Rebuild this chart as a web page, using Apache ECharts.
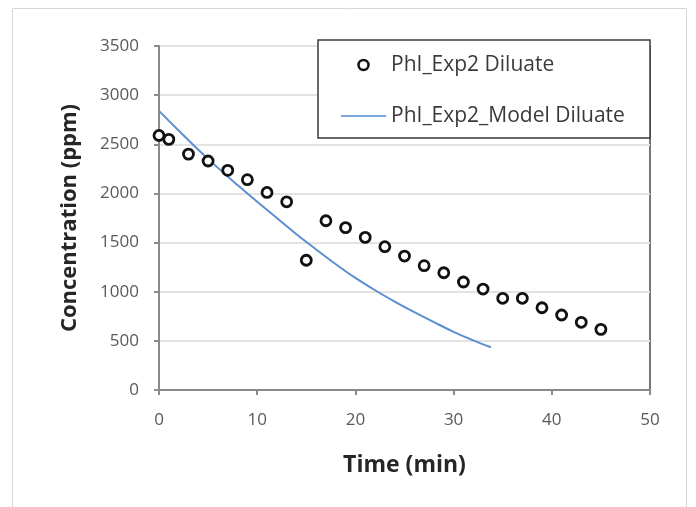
<!DOCTYPE html>
<html>
<head>
<meta charset="utf-8">
<script src="https://cdn.jsdelivr.net/npm/echarts@6/dist/echarts.min.js"></script>
<style>
html,body{margin:0;padding:0;background:#fff;}
#chart{width:696px;height:507px;}
</style>
</head>
<body>
<div id="chart"></div>
<script>
// Experimental diluate concentration (time in min, concentration in ppm)
var expTime = [0, 1, 3, 5, 7, 9, 11, 13, 15, 17, 19, 21, 23, 25, 27, 29, 31, 33, 35, 37, 39, 41, 43, 45];
var expConc = [2590, 2550, 2400, 2330, 2235, 2140, 2010, 1915, 1320, 1722, 1652, 1553, 1458, 1363, 1265, 1193, 1099, 1027, 933, 933, 837, 763, 689, 617];
// Model curve
var modelTime = [0, 2, 4, 6, 8, 10, 12, 14, 16, 18, 20, 22, 24, 26, 28, 30, 32, 33.8];
var modelConc = [2840, 2640, 2445, 2260, 2085, 1915, 1750, 1585, 1430, 1280, 1140, 1015, 900, 792, 690, 592, 505, 435];
var seriesNames = ['PhI_Exp2 Diluate', 'PhI_Exp2_Model Diluate'];
var xTitle = 'Time (min)';
var yTitle = 'Concentration (ppm)';

var chart = echarts.init(document.getElementById('chart'));
var font = 'Open Sans';
chart.setOption({
  animation: false,
  backgroundColor: '#fff',
  textStyle: {fontFamily: font},
  graphic: [
    {type: 'rect', shape: {x: 12.5, y: 8.5, width: 674, height: 500}, style: {fill: 'none', stroke: '#d6d6d6', lineWidth: 1}, z: -1},
    {type: 'rect', shape: {x: 318, y: 40, width: 332, height: 98}, style: {fill: '#fff', stroke: '#3a3a3a', lineWidth: 1.5}, z: 10}
  ],
  grid: {left: 159, right: 46, top: 46, bottom: 117, show: true, borderColor: '#4a4a4a', borderWidth: 1.5},
  legend: {
    z: 20,
    orient: 'vertical',
    left: 341, top: 53,
    padding: 0,
    itemWidth: 45, itemHeight: 10,
    itemGap: 27,
    textStyle: {fontFamily: font, fontSize: 21, color: '#3a3a3a', lineHeight: 24},
    data: [
      {name: seriesNames[0], icon: 'circle', itemStyle: {color: '#fff', borderColor: '#111', borderWidth: 2.5}},
      {name: seriesNames[1], icon: 'path://M0,0h0.01v0.01h-0.01z M0,4h45v2h-45z M44.99,9.99h0.01v0.01h-0.01z', itemStyle: {color: '#7aa7dc', borderWidth: 0}}
    ]
  },
  xAxis: {
    type: 'value', min: 0, max: 50, interval: 10,
    name: xTitle, nameLocation: 'middle', nameGap: 64,
    nameTextStyle: {fontFamily: font, fontSize: 23, fontWeight: 'bold', color: '#262626'},
    axisLine: {show: true, onZero: false, lineStyle: {color: '#8a8a8a', width: 2}},
    axisTick: {show: true, inside: false, length: 5, lineStyle: {color: '#8a8a8a', width: 2}},
    axisLabel: {fontFamily: font, fontSize: 17, color: '#595959', margin: 22, formatter: function (v) { return String(v); }},
    splitLine: {show: false}
  },
  yAxis: {
    type: 'value', min: 0, max: 3500, interval: 500,
    name: yTitle, nameLocation: 'middle', nameGap: 78,
    nameTextStyle: {fontFamily: font, fontSize: 22, fontWeight: 'bold', color: '#262626'},
    axisLine: {show: true, lineStyle: {color: '#8a8a8a', width: 2}},
    axisTick: {show: true, inside: false, length: 5, lineStyle: {color: '#8a8a8a', width: 2}},
    axisLabel: {fontFamily: font, fontSize: 17, color: '#595959', margin: 20, formatter: function (v) { return String(v); }},
    splitLine: {show: true, lineStyle: {color: '#e3e3e3', width: 2}}
  },
  series: [
    {
      name: seriesNames[0], type: 'scatter', z: 5,
      symbol: 'circle', symbolSize: 10,
      itemStyle: {color: '#fff', borderColor: '#111', borderWidth: 2.8, opacity: 1},
      data: expTime.map(function (t, i) { return [t, expConc[i]]; })
    },
    {
      name: seriesNames[1], type: 'line', z: 3,
      smooth: 0.4, symbol: 'none', showSymbol: false,
      lineStyle: {color: '#5b8fd0', width: 2},
      itemStyle: {color: '#5b8fd0'},
      data: modelTime.map(function (t, i) { return [t, modelConc[i]]; })
    }
  ]
});
</script>
</body>
</html>
